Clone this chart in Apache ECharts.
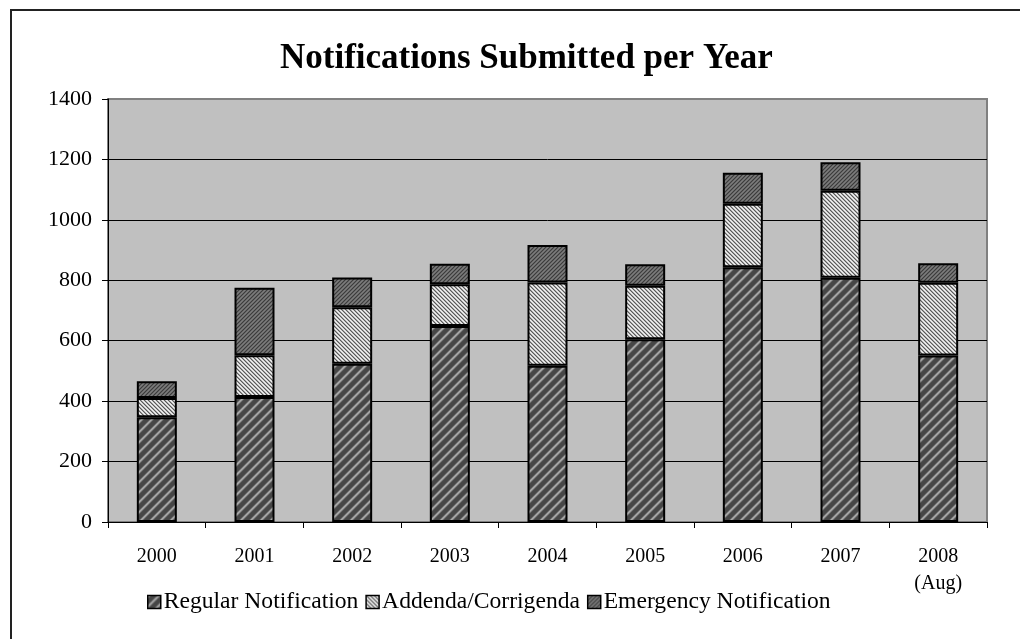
<!DOCTYPE html>
<html>
<head>
<meta charset="utf-8">
<style>
  html, body { margin: 0; padding: 0; background: #ffffff; }
  #chart { width: 1020px; height: 639px; }
</style>
<script src="https://cdn.jsdelivr.net/npm/echarts@6/dist/echarts.min.js"></script>
</head>
<body>
<div id="chart"></div>
<script>
// Years shown along the x axis
const years = ['2000', '2001', '2002', '2003', '2004', '2005', '2006', '2007', '2008\n(Aug)'];
// Notifications per year, by type
const regular   = [347, 414, 524, 649, 517, 605, 843, 808, 551];
const addenda   = [63, 138, 187, 138, 276, 177, 210, 288, 241];
const emergency = [56, 223, 98, 68, 124, 71, 103, 95, 64];
// Value axis ticks
const yTicks = [0, 200, 400, 600, 800, 1000, 1200, 1400];

// Build a repeating diagonal hatch tile.
// dir: 1 for "/" stripes, -1 for "\" stripes; shades indexed by position within the period.
function hatch(period, shades, dir) {
  const c = document.createElement('canvas');
  c.width = period; c.height = period;
  const ctx = c.getContext('2d');
  for (let y = 0; y < period; y++) {
    for (let x = 0; x < period; x++) {
      const k = (((dir > 0 ? x + y : x - y) % period) + period) % period;
      ctx.fillStyle = shades[k];
      ctx.fillRect(x, y, 1, 1);
    }
  }
  return { image: c, repeat: 'repeat' };
}

const regularFill = hatch(10, ['#aaaaaa', '#9a9a9a', '#6c6c6c', '#4a4a4a', '#464646', '#464646', '#464646', '#464646', '#505050', '#808080'], 1);
const addendaFill = hatch(4, ['#5a5a5a', '#a8a8a8', '#f2f2f2', '#d0d0d0'], -1);
const emergencyFill = hatch(4, ['#3c3c3c', '#646464', '#7c7c7c', '#686868'], 1);

const serif = '"Liberation Serif", "DejaVu Serif", serif';

// Grid lines: black inside the plot, gray where the top one meets the plot border
const splitColors = yTicks.map((v, i) => (i === yTicks.length - 1 ? '#808080' : '#000000'));

const chart = echarts.init(document.getElementById('chart'), null, { renderer: 'canvas' });

function barSeries(name, data, fill) {
  return {
    name: name,
    type: 'bar',
    stack: 'total',
    data: data,
    barWidth: 40,
    itemStyle: { color: fill, borderColor: '#000000', borderWidth: 2 },
    emphasis: { disabled: true }
  };
}

chart.setOption({
  animation: false,
  backgroundColor: '#ffffff',
  graphic: [{
    type: 'rect',
    shape: { x: 11, y: 10, width: 1040, height: 660 },
    style: { fill: 'none', stroke: '#222222', lineWidth: 2 },
    silent: true,
    z: -1
  }],
  title: {
    text: 'Notifications Submitted per Year',
    left: 275,
    top: 36,
    textStyle: { fontFamily: serif, fontSize: 35, fontWeight: 'bold', color: '#000000' }
  },
  legend: {
    top: 585,
    left: 142,
    itemWidth: 13,
    itemHeight: 13,
    itemGap: 7,
    icon: 'rect',
    selectedMode: false,
    textStyle: { fontFamily: serif, fontSize: 23.6, color: '#000000', padding: [0, 0, 0, -2] },
    itemStyle: { borderColor: '#000000', borderWidth: 1.5 }
  },
  grid: {
    left: 108, right: 33, top: 99, bottom: 117,
    show: true,
    backgroundColor: '#c0c0c0',
    borderColor: '#808080',
    borderWidth: 2
  },
  xAxis: {
    type: 'category',
    data: years,
    boundaryGap: true,
    axisLine: { show: true, lineStyle: { color: '#000000', width: 1 } },
    axisTick: { show: true, length: 6, lineStyle: { color: '#000000' } },
    axisLabel: { fontFamily: serif, fontSize: 20, color: '#000000', margin: 21, lineHeight: 27 }
  },
  yAxis: {
    type: 'value',
    min: yTicks[0],
    max: yTicks[yTicks.length - 1],
    interval: yTicks[1] - yTicks[0],
    axisLine: { show: true, lineStyle: { color: '#000000', width: 1 } },
    axisTick: { show: true, length: 6, lineStyle: { color: '#000000' } },
    axisLabel: { fontFamily: serif, fontSize: 22, color: '#000000', margin: 16, formatter: v => String(v) },
    splitLine: { show: true, lineStyle: { color: splitColors, width: 1 } }
  },
  series: [
    barSeries('Regular Notification', regular, regularFill),
    barSeries('Addenda/Corrigenda', addenda, addendaFill),
    barSeries('Emergency Notification', emergency, emergencyFill)
  ]
});
</script>
</body>
</html>
